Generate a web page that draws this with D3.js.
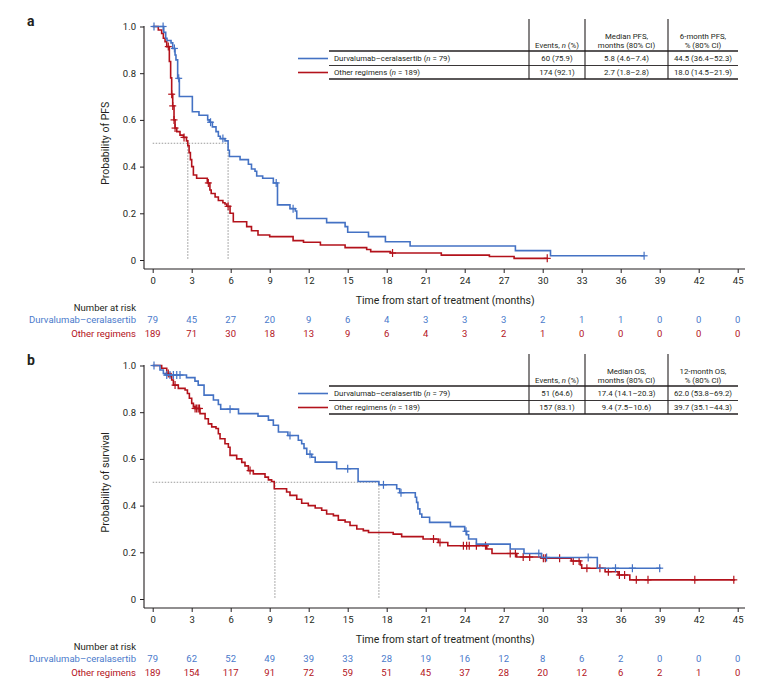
<!DOCTYPE html>
<html><head><meta charset="utf-8">
<script src="https://cdn.jsdelivr.net/npm/d3@7"></script>
<style>
body{margin:0;background:#fff}
svg{display:block}
text{font-family:Roboto,"Noto Sans",sans-serif;fill:#231f20}
</style>
</head><body><svg id="c" width="758" height="681"></svg>
<script>
// ---------------- DATA ----------------
const groupNames = ["Durvalumab–ceralasertib", "Other regimens"];
const groupN = [79, 189];
const xTickValues = [0,3,6,9,12,15,18,21,24,27,30,33,36,39,42,45];
const yTickValues = [0,0.2,0.4,0.6,0.8,1.0];
const yTickLabels = ["0","0.2","0.4","0.6","0.8","1.0"];

// PFS step functions [time, survival]
const pfsDurvaSteps = [[0,1],[0.85,0.975],[1.0,0.95],[1.1,0.94],[1.41,0.93],[1.54,0.906],[1.72,0.878],[1.79,0.857],[1.92,0.778],[2.05,0.70],[3.05,0.635],[3.56,0.62],[4.23,0.60],[4.35,0.59],[4.59,0.57],[4.87,0.55],[5.05,0.53],[5.2,0.52],[5.56,0.51],[5.8,0.47],[5.9,0.443],[6.72,0.43],[7.36,0.41],[7.6,0.39],[7.87,0.38],[8.0,0.36],[8.46,0.35],[9.28,0.33],[9.6,0.236],[10.56,0.22],[10.97,0.21],[11.08,0.178],[13.38,0.16],[14.8,0.143],[15.0,0.119],[16.6,0.10],[17.9,0.078],[19.8,0.06],[27.9,0.04],[30.6,0.018]];
const pfsDurvaEnd = 37.8;
const pfsDurvaCensor = [0.1,0.8,1.67,2.0,4.45,5.4,9.5,10.8,37.8];

const pfsOtherSteps = [[0,1],[0.43,0.985],[0.69,0.97],[0.82,0.95],[0.95,0.935],[1.08,0.914],[1.28,0.85],[1.38,0.78],[1.46,0.71],[1.54,0.66],[1.64,0.60],[1.72,0.565],[1.85,0.55],[2.1,0.535],[2.36,0.525],[2.6,0.51],[2.7,0.49],[2.8,0.46],[2.9,0.43],[3.0,0.40],[3.13,0.364],[3.38,0.35],[4.2,0.33],[4.4,0.30],[4.5,0.285],[4.8,0.27],[5.05,0.255],[5.4,0.245],[5.56,0.24],[5.7,0.23],[5.95,0.20],[6.2,0.164],[7.23,0.143],[7.6,0.125],[8.1,0.107],[9.0,0.10],[10.8,0.083],[11.6,0.076],[12.9,0.064],[14.8,0.053],[16.46,0.045],[16.77,0.036],[18.3,0.03],[22.2,0.021],[25.9,0.015],[27.8,0.007]];
const pfsOtherEnd = 30.35;
const pfsOtherCensor = [1.2,1.46,1.54,1.64,1.72,2.41,4.28,5.8,18.45,30.35];

// OS step functions
const osDurvaSteps = [[0,1],[0.56,0.981],[0.82,0.966],[0.95,0.959],[2.6,0.948],[3.25,0.933],[3.5,0.916],[3.95,0.873],[4.67,0.852],[5.05,0.833],[5.23,0.813],[6.6,0.794],[8.1,0.783],[8.9,0.766],[9.28,0.744],[9.67,0.715],[10.4,0.70],[11.2,0.68],[11.46,0.665],[11.64,0.645],[11.85,0.62],[12.23,0.607],[12.5,0.586],[14.15,0.558],[15.8,0.503],[17.4,0.489],[18.77,0.472],[19.0,0.455],[20.2,0.436],[20.3,0.414],[20.4,0.386],[20.55,0.364],[20.7,0.35],[21.3,0.328],[22.9,0.31],[24.0,0.29],[24.15,0.275],[24.3,0.257],[24.9,0.235],[27.5,0.214],[28.56,0.195],[29.9,0.178],[34.2,0.132]];
const osDurvaEnd = 39.1;
const osDurvaCensor = [0.1,1.08,1.33,1.59,1.85,2.1,5.95,10.56,12.1,15.0,17.75,19.1,24.1,29.7,30.3,33.5,35.6,36.9,39.0];

const osOtherSteps = [[0,1],[0.69,0.988],[1.08,0.966],[1.33,0.952],[1.46,0.938],[1.59,0.916],[1.97,0.902],[2.49,0.895],[2.67,0.88],[2.82,0.86],[3.0,0.838],[3.13,0.823],[3.26,0.816],[3.64,0.794],[4.03,0.772],[4.28,0.75],[4.54,0.737],[4.87,0.73],[5.05,0.708],[5.18,0.686],[5.56,0.665],[5.82,0.65],[5.95,0.615],[6.46,0.60],[6.85,0.585],[7.1,0.57],[7.36,0.55],[7.74,0.536],[8.64,0.522],[8.9,0.51],[9.15,0.503],[9.35,0.472],[10.3,0.458],[10.56,0.444],[11.08,0.427],[11.46,0.41],[11.97,0.40],[12.5,0.39],[13.0,0.38],[13.38,0.364],[13.9,0.357],[14.28,0.338],[14.8,0.33],[15.18,0.315],[15.7,0.30],[16.2,0.293],[16.6,0.285],[18.5,0.278],[19.15,0.267],[20.8,0.257],[21.97,0.242],[22.7,0.228],[25.7,0.214],[26.1,0.195],[28.0,0.18],[29.9,0.175],[32.2,0.163],[32.9,0.146],[33.0,0.132],[34.8,0.117],[35.8,0.103],[36.7,0.082]];
const osOtherEnd = 44.8;
const osOtherCensor = [1.2,1.72,3.26,3.38,3.5,3.6,7.49,21.6,22.1,23.9,24.15,24.35,24.9,25.6,27.5,27.9,28.5,29.0,30.05,30.2,31.3,32.35,32.8,33.4,34.4,35.05,35.9,36.3,37.2,38.1,41.7,44.7];

// Number at risk
const pfsRiskDurva = [79,45,27,20,9,6,4,3,3,3,2,1,1,0,0,0];
const pfsRiskOther = [189,71,30,18,13,9,6,4,3,2,1,0,0,0,0,0];
const osRiskDurva = [79,62,52,49,39,33,28,19,16,12,8,6,2,0,0,0];
const osRiskOther = [189,154,117,91,72,59,51,45,37,28,20,12,6,2,1,0];

// Medians
const pfsMedians = [5.8, 2.7];
const osMedians = [17.4, 9.4];

// Summary tables
const pfsHeaders = [["Events, |n| (%)"], ["Median PFS,", "months (80% CI)"], ["6-month PFS,", "% (80% CI)"]];
const pfsRowsDurva = ["60 (75.9)", "5.8 (4.6–7.4)", "44.5 (36.4–52.3)"];
const pfsRowsOther = ["174 (92.1)", "2.7 (1.8–2.8)", "18.0 (14.5–21.9)"];
const osHeaders = [["Events, |n| (%)"], ["Median OS,", "months (80% CI)"], ["12-month OS,", "% (80% CI)"]];
const osRowsDurva = ["51 (64.6)", "17.4 (14.1–20.3)", "62.0 (53.8–69.2)"];
const osRowsOther = ["157 (83.1)", "9.4 (7.5–10.6)", "39.7 (35.1–44.3)"];

// ---------------- STYLE ----------------
const BLUE = "#4472c4";
const RED = "#b3121b";
const BLUE_TXT = "#4a7acb";
const RED_TXT = "#b3121b";
const svg = d3.select("#c");

function addRich(sel, str) {
  const parts = str.split("|");
  parts.forEach((p, i) => {
    const t = sel.append("tspan").text(p);
    if (i % 2 === 1) t.style("font-style", "italic");
  });
}

function survAt(steps, t) {
  let s = 1;
  for (const [tt, ss] of steps) { if (tt <= t + 1e-9) s = ss; }
  return s;
}

function drawPanel(cfg) {
  const off = cfg.off;
  const x = d3.scaleLinear().domain([0, 45]).range([152.7, 737.7]);
  const y = d3.scaleLinear().domain([0, 1]).range([260 + off, 26.5 + off]);
  const g = svg.append("g");

  g.append("text").attr("x", 27).attr("y", 26 + off).text(cfg.letter)
    .style("font-weight", "bold").style("font-size", "14px").attr("fill", "#000");

  const yAxis = d3.axisLeft(y).tickValues(yTickValues).tickFormat((d, i) => yTickLabels[i]).tickSize(4).tickPadding(4);
  const ya = g.append("g").attr("transform", "translate(144,0)").call(yAxis);
  ya.select(".domain").attr("d", `M0,${y(1) - 0.5}V${269 + off}`);
  const xAxis = d3.axisBottom(x).tickValues(xTickValues).tickSize(4).tickPadding(4);
  const xa = g.append("g").attr("transform", `translate(0,${269 + off})`).call(xAxis);
  xa.select(".domain").attr("d", `M144,0H745`);
  [ya, xa].forEach(a => {
    a.selectAll(".domain").attr("stroke", "#231f20").attr("stroke-width", 1.1);
    a.selectAll(".tick line").attr("stroke", "#231f20").attr("stroke-width", 1);
    a.selectAll(".tick text").style("font-size", "9.5px").attr("fill", "#231f20").style("font-family", "Roboto");
  });

  g.append("text").attr("transform", `translate(109,${y(0.5)}) rotate(-90)`).attr("text-anchor", "middle")
    .style("font-size", "10.5px").text(cfg.yTitle);
  g.append("text").attr("x", x(22.5)).attr("y", 303.5 + off).attr("text-anchor", "middle")
    .style("font-size", "10.5px").text("Time from start of treatment (months)");

  const med = g.append("g").attr("stroke", "#9a9a9a").attr("stroke-width", 1.1).attr("stroke-dasharray", "1.5,1.5").attr("fill", "none");
  const mx = d3.max(cfg.medians);
  med.append("line").attr("x1", x(0)).attr("x2", x(mx)).attr("y1", y(0.5)).attr("y2", y(0.5));
  cfg.medians.forEach(m => med.append("line").attr("x1", x(m)).attr("x2", x(m)).attr("y1", y(0.5)).attr("y2", y(0)));

  const line = d3.line().x(d => x(d[0])).y(d => y(d[1])).curve(d3.curveStepAfter);
  const colors = [BLUE, RED];
  const order = [1, 0];
  order.forEach(i => {
    const steps = cfg.steps[i];
    const pts = steps.concat([[cfg.ends[i], steps[steps.length - 1][1]]]);
    g.append("path").attr("d", line(pts)).attr("fill", "none").attr("stroke", colors[i])
      .attr("stroke-width", 1.6).attr("stroke-linejoin", "miter");
    const cg = g.append("g").attr("stroke", colors[i]).attr("stroke-width", 1.2);
    cfg.censors[i].forEach(t => {
      const cx = x(t), cy = y(survAt(steps, t));
      cg.append("line").attr("x1", cx).attr("x2", cx).attr("y1", cy - 4).attr("y2", cy + 4);
      cg.append("line").attr("x1", cx - 3.5).attr("x2", cx + 3.5).attr("y1", cy).attr("y2", cy);
    });
  });

  const rk = g.append("g").style("font-size", "9.5px");
  rk.append("text").attr("x", 136).attr("y", 310.5 + off).attr("text-anchor", "end").text("Number at risk");
  const rowY = [323 + off, 337 + off];
  const txtCol = [BLUE_TXT, RED_TXT];
  [0, 1].forEach(i => {
    rk.append("text").attr("x", 136).attr("y", rowY[i]).attr("text-anchor", "end")
      .style("fill", txtCol[i]).text(groupNames[i]);
    rk.selectAll(null).data(cfg.risk[i]).enter().append("text")
      .attr("x", (d, j) => x(xTickValues[j])).attr("y", rowY[i]).attr("text-anchor", "middle")
      .style("fill", txtCol[i]).text(d => d);
  });

  const to = cfg.toff;
  const tg = g.append("g");
  const colX = [529, 585, 668, 738];
  const lineCol = "#231f20";
  colX.slice(0, 3).forEach(cx => tg.append("line").attr("x1", cx).attr("x2", cx).attr("y1", 19 + to).attr("y2", 79 + to)
    .attr("stroke", lineCol).attr("stroke-width", 1.1));
  [51, 65.5, 79].forEach((yy, k) => tg.append("line").attr("x1", 329).attr("x2", 738).attr("y1", yy + to).attr("y2", yy + to)
    .attr("stroke", lineCol).attr("stroke-width", k === 1 ? 0.9 : 1.3));
  const fs = "7.8px";
  cfg.headers.forEach((h, c) => {
    const cx = (colX[c] + colX[c + 1]) / 2;
    h.forEach((ln, k) => {
      const yy = (h.length === 1 ? 47.5 : 38.5 + k * 9) + to;
      const t = tg.append("text").attr("x", cx).attr("y", yy).attr("text-anchor", "middle").style("font-size", fs);
      addRich(t, ln);
    });
  });
  const rowTY = [61 + to, 75 + to];
  [0, 1].forEach(i => {
    tg.append("line").attr("x1", 298).attr("x2", 328).attr("y1", rowTY[i] - 2.5).attr("y2", rowTY[i] - 2.5)
      .attr("stroke", colors[i]).attr("stroke-width", 1.6);
    const t = tg.append("text").attr("x", 334).attr("y", rowTY[i]).style("font-size", fs);
    addRich(t, `${groupNames[i]} (|n| = ${groupN[i]})`);
    cfg.rows[i].forEach((v, c) => {
      tg.append("text").attr("x", (colX[c] + colX[c + 1]) / 2).attr("y", rowTY[i]).attr("text-anchor", "middle")
        .style("font-size", fs).text(v);
    });
  });
}

drawPanel({
  off: 0, toff: 0, letter: "a", yTitle: "Probability of PFS",
  steps: [pfsDurvaSteps, pfsOtherSteps], ends: [pfsDurvaEnd, pfsOtherEnd],
  censors: [pfsDurvaCensor, pfsOtherCensor], medians: pfsMedians,
  risk: [pfsRiskDurva, pfsRiskOther], headers: pfsHeaders, rows: [pfsRowsDurva, pfsRowsOther]
});
drawPanel({
  off: 339, toff: 335, letter: "b", yTitle: "Probability of survival",
  steps: [osDurvaSteps, osOtherSteps], ends: [osDurvaEnd, osOtherEnd],
  censors: [osDurvaCensor, osOtherCensor], medians: osMedians,
  risk: [osRiskDurva, osRiskOther], headers: osHeaders, rows: [osRowsDurva, osRowsOther]
});
</script>
</body></html>
